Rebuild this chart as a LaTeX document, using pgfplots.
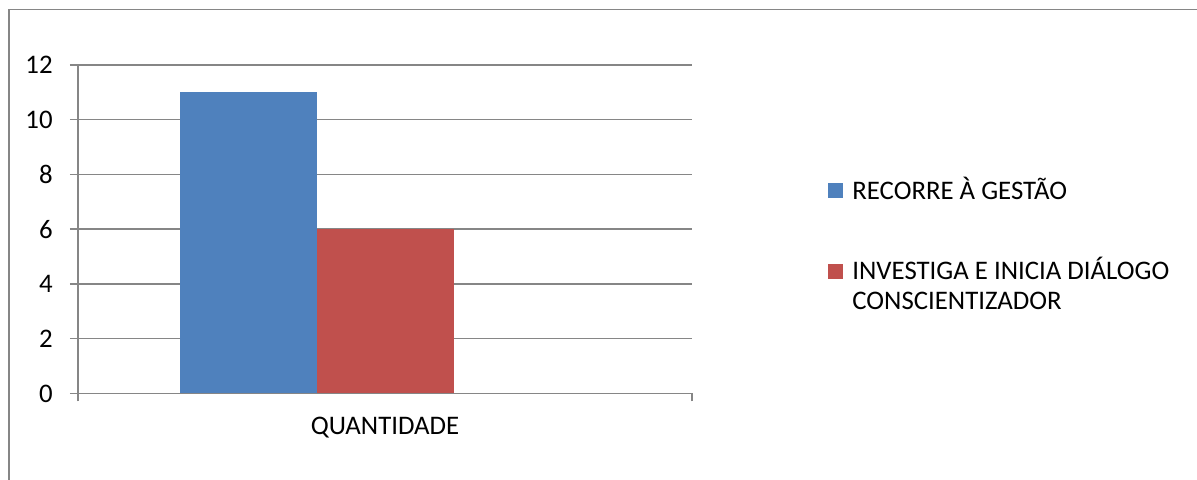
\documentclass[border=0pt]{standalone}
\usepackage{pgfplots}
\pgfplotsset{compat=1.18}
\usepackage{fontspec}
\setmainfont{Carlito}
\definecolor{barblue}{HTML}{4F81BD}
\definecolor{barred}{HTML}{C0504D}
\definecolor{gridgray}{HTML}{868686}
\newcommand{\chartfont}{\fontsize{13.4}{15}\selectfont}
\begin{document}
\chartfont
\begin{tikzpicture}
\path[use as bounding box] (0,0) rectangle (598.5pt,240pt);
\draw[gridgray, line width=0.75pt] (4.5pt,-2pt) -- (4.5pt,235.2pt) -- (600pt,235.2pt);
\begin{axis}[
  at={(39pt,43.25pt)}, anchor=origin,
  scale only axis,
  width=307pt, height=164.25pt,
  xmin=0, xmax=1, ymin=0, ymax=12,
  ytick={0,2,...,12},
  xtick={0,1}, xticklabels={,},
  extra x ticks={0.5}, extra x tick labels={QUANTIDADE},
  extra x tick style={major tick length=0pt, grid=none},
  axis x line*=bottom, axis y line*=left,
  axis line style={gridgray, line width=0.75pt},
  ymajorgrids,
  grid style={gridgray, line width=0.75pt},
  tick style={gridgray, line width=0.75pt},
  tick align=outside, major tick length=4pt,
  /pgf/number format/assume math mode=true,
  yticklabel style={font=\chartfont, text=black, xshift=-4pt},
  xticklabel style={font=\chartfont, text=black, yshift=-7pt},
  ybar, bar width=68.5pt,
  legend style={at={(axis description cs:1.2215,0.66)}, anchor=north west,
    draw=none, fill=none, row sep=27pt, column sep=4.5pt, inner sep=0pt,
    cells={anchor=base west},
    nodes={font=\chartfont, inner sep=0pt, text=black}},
  legend image code/.code={\fill[#1] (0pt,0.6pt) rectangle (7.5pt,8.1pt);},
]
\addplot[fill=barblue, draw=none, bar shift=-68.25pt] coordinates {(0.5,11)};
\addplot[fill=barred, draw=none, bar shift=0pt] coordinates {(0.5,6)};
\legend{RECORRE À GESTÃO, {\begin{tabular}[t]{@{}l@{}}INVESTIGA E INICIA DIÁLOGO\\CONSCIENTIZADOR\end{tabular}}}
\end{axis}
\end{tikzpicture}
\end{document}
